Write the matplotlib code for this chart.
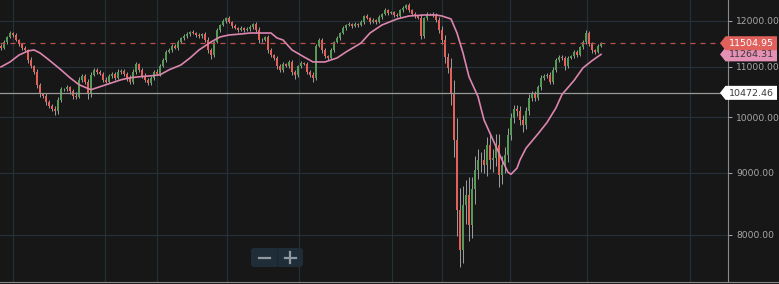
import matplotlib.pyplot as plt
import numpy as np
from matplotlib.patches import Polygon, FancyBboxPatch
from matplotlib.ticker import NullLocator, NullFormatter

# daily closes left to right
closes = [
    11400, 11530, 11640, 11730, 11690, 11580, 11490, 11400, 11360, 11150,
    11020, 10900, 10630, 10440, 10420, 10300, 10220, 10150, 10110, 10340,
    10540, 10540, 10580, 10500, 10420, 10400, 10740, 10820, 10700, 10440,
    10840, 10940, 10900, 10860,
    10740, 10700, 10820, 10860, 10780, 10900, 10920, 10860, 10780, 10680,
    10900, 11060, 10940, 10820, 10740, 10660, 10780, 10900, 10860, 11020,
    11150, 11320, 11360, 11450, 11400, 11530, 11620, 11660, 11710, 11750,
    11730, 11690, 11660,
    11710, 11580, 11360, 11250, 11530, 11800, 11910, 12000, 12070, 11980,
    11890, 11840, 11800, 11840, 11800, 11820, 11860, 11930, 11800, 11580,
    11580, 11640, 11360, 11250, 11190, 11020, 10940, 11060, 11020, 11100,
    10900, 10840, 11020,
    11080, 11060, 10900, 10840, 10780, 11450, 11580, 11360, 11230, 11190,
    11360, 11530, 11620, 11730, 11840, 11910, 11930, 11890, 11930, 11910,
    11980, 12110, 12070, 11980, 12020, 11980, 12090, 12160, 12250, 12180,
    12200, 12140, 12110,
    12250, 12300, 12370, 12250, 12160, 12110, 12070, 11660, 12070, 12160,
    12160, 12140, 12020, 11800, 11580, 11210, 10980, 10440, 9580, 8390,
    7780, 8470, 8630, 8160, 8730, 9040, 9220, 9220, 9140, 9490,
    9220, 9260, 9490,
    8960, 9140, 9310, 9670, 9980, 10150, 10110, 9950, 9850, 10110,
    10380, 10440, 10380, 10580, 10780, 10820, 10840, 10700, 10940, 11150,
    11210, 11190, 11020, 11190, 11230, 11320, 11250, 11420, 11530, 11730,
    11490, 11360, 11320, 11450, 11504.95,
]
first_open = 11450

wick_up = [
    30, 40, 20, 50, 30, 40, 20, 30, 40, 30, 50, 30, 60, 40, 30, 50, 40, 30, 60, 50,
    40, 30, 50, 30, 40, 60, 50, 40, 30, 60, 50, 40, 30, 40,
    40, 50, 30, 40, 30, 50, 40, 30, 40, 60, 50, 40, 30, 40, 50, 30, 40, 30, 50, 40,
    40, 30, 50, 40, 30, 40, 30, 40, 50, 30, 40, 30, 40,
    30, 40, 60, 50, 30, 40, 30, 40, 30, 40, 30, 40, 30, 40, 30, 40, 50, 30, 40, 60,
    40, 30, 50, 40, 30, 40, 50, 40, 30, 40, 50, 40, 30,
    40, 30, 50, 40, 60, 30, 40, 50, 40, 30, 40, 30, 40, 30, 40, 30, 40, 30, 40, 30,
    40, 30, 40, 30, 40, 30, 40, 30, 40, 30, 40, 30, 40,
    30, 40, 30, 40, 30, 40, 30, 80, 30, 40, 30, 40, 50, 60, 80, 100, 80, 200, 300, 400,
    350, 300, 250, 300, 200, 250, 200, 150, 200, 150, 200, 150, 200,
    200, 150, 150, 120, 100, 80, 80, 100, 100, 80, 60, 60, 60, 50, 50, 40, 40, 60, 50, 40,
    40, 40, 50, 40, 30, 40, 40, 30, 40, 60, 40, 40, 30, 40, 30,
]
wick_dn = [
    40, 30, 40, 30, 40, 30, 50, 40, 30, 60, 50, 40, 60, 50, 40, 60, 50, 40, 60, 50,
    40, 30, 40, 50, 60, 40, 30, 40, 60, 80, 40, 30, 40, 30,
    50, 40, 30, 40, 50, 30, 40, 50, 60, 40, 30, 40, 50, 40, 60, 40, 30, 40, 30, 40,
    30, 40, 30, 40, 30, 40, 30, 40, 30, 40, 30, 40, 30,
    40, 50, 60, 80, 40, 30, 40, 30, 40, 30, 40, 30, 40, 30, 40, 30, 40, 30, 50, 60,
    40, 30, 60, 50, 40, 60, 50, 40, 30, 40, 60, 80, 40,
    40, 30, 50, 40, 80, 40, 30, 60, 50, 40, 30, 40, 30, 40, 30, 40, 30, 40, 30, 40,
    30, 40, 30, 40, 30, 40, 30, 40, 30, 40, 30, 40, 30,
    30, 40, 30, 40, 30, 40, 30, 60, 30, 40, 30, 40, 50, 80, 100, 120, 100, 200, 300, 400,
    250, 200, 300, 250, 200, 250, 150, 200, 150, 200, 150, 200, 150,
    200, 150, 150, 120, 100, 80, 80, 100, 120, 80, 60, 60, 60, 50, 50, 40, 40, 60, 50, 40,
    40, 40, 80, 40, 30, 40, 40, 30, 40, 40, 40, 60, 40, 30, 30,
]

# moving average, sampled at candle positions
ma_idx = [0, 3, 6, 9, 11, 13, 16, 20, 23, 26, 30, 33, 36, 40, 43, 46, 50, 53, 56, 60,
          63, 66, 70, 73, 76, 80, 83, 86, 90, 92, 94, 97, 101, 104, 108, 112, 115, 120,
          123, 127, 132, 136, 141, 145, 147, 150, 152, 154, 156, 159, 161, 164, 167,
          169, 170, 172, 173, 175, 179, 182, 185, 187, 191, 194, 197, 200]
ma_vals = [11000, 11104, 11250, 11337, 11359, 11295, 11146, 10939, 10776, 10635,
           10535, 10595, 10655, 10735, 10776, 10796, 10816, 10836, 10939, 11042,
           11188, 11359, 11532, 11642, 11686, 11708, 11730, 11730, 11730, 11620,
           11576, 11359, 11210, 11104, 11104, 11188, 11316, 11510, 11730, 11910,
           12046, 12114, 12137, 12137, 12114, 12046, 11730, 11295, 10796, 10398,
           9949, 9579, 9223, 9010, 8975, 9080, 9223, 9430, 9690, 9900,
           10180, 10440, 10720, 10980, 11130, 11264.31]

last_price = 11504.95
ma_last = 11264.31
ref_price = 10472.46
y_ticks = [8000, 9000, 10000, 11000, 12000]
grid_x = [4, 34.67, 52, 75.33, 99.33, 130.33, 147, 169.67, 195.33, 229.67]

bg = '#171717'
grid_c = '#26313b'
red = '#e3605b'
green = '#559a55'
wick_c = '#b4b4b4'
pink = '#dc86ae'

closes = np.array(closes, dtype=float)
opens = np.r_[first_open, closes[:-1]]
highs = np.maximum(opens, closes) + np.array(wick_up)
lows = np.minimum(opens, closes) - np.array(wick_dn)
idx = np.arange(len(closes))
up = closes >= opens

W, H = 779, 284
fig = plt.figure(figsize=(W / 100, H / 100), dpi=100)
fig.patch.set_facecolor(bg)
ax = fig.add_axes([0, 2 / H, 728 / W, 282 / H])
ax.set_facecolor(bg)
ax.set_yscale('log')
ax.set_ylim(7318, 12487)
ax.set_xlim(-1 / 3, 728 / 3 - 1 / 3)

for v in y_ticks:
    ax.axhline(v, color=grid_c, lw=0.8, zorder=0)
for gx in grid_x:
    ax.axvline(gx, color=grid_c, lw=0.8, zorder=0)

ax.vlines(idx, lows, highs, color=wick_c, lw=0.6, zorder=1)
ax.bar(idx[up], (closes - opens)[up], bottom=opens[up], width=0.8, color=green,
       lw=0, antialiased=False, zorder=2)
ax.bar(idx[~up], (closes - opens)[~up], bottom=opens[~up], width=0.8, color=red,
       lw=0, antialiased=False, zorder=2)

ax.axhline(ref_price, color='#9a9a9a', lw=0.9, zorder=3)
ax.axhline(last_price, color='#b9504d', lw=0.9, dashes=(4, 4), zorder=3)
ax.plot(ma_idx, ma_vals, color=pink, lw=1.2, zorder=4)

ax.yaxis.tick_right()
ax.set_yticks(y_ticks)
ax.set_yticklabels([f'{v:.2f}' for v in y_ticks])
ax.yaxis.set_minor_locator(NullLocator())
ax.yaxis.set_minor_formatter(NullFormatter())
ax.set_xticks([])
ax.tick_params(axis='y', colors='#a8a8a8', labelsize=6.6, length=3, width=0.7, pad=3)
for s in ['left', 'top', 'bottom']:
    ax.spines[s].set_visible(False)
ax.spines['right'].set_color('#8a8a8a')
ax.spines['right'].set_linewidth(0.8)

# overlay in pixel coordinates for price tags and zoom buttons
ov = fig.add_axes([0, 0, 1, 1])
ov.set_xlim(0, W)
ov.set_ylim(H, 0)
ov.axis('off')
ov.patch.set_alpha(0)
ov.plot([0, W], [282, 282], color='#8a8a8a', lw=0.8)

fig.canvas.draw()


def ypix(price):
    return H - ax.transData.transform((0, price))[1]


def tag(price, face, txt_color):
    yc = ypix(price)
    pts = [(720, yc), (725.5, yc - 7), (777, yc - 7), (777, yc + 7), (725.5, yc + 7)]
    ov.add_patch(Polygon(pts, closed=True, fc=face, ec='none', zorder=5))
    ov.text(751, yc + 0.5, f'{price:.2f}', color=txt_color, fontsize=6.8,
            ha='center', va='center', zorder=6)


tag(ref_price, '#ffffff', '#3a3a3a')
tag(ma_last, '#e590b5', '#3a3a3a')
tag(last_price, '#e0605c', '#ffffff')

ov.add_patch(FancyBboxPatch((251, 248), 52, 19, boxstyle='round,pad=0,rounding_size=3',
                            fc='#1f2d38', ec='none', zorder=5))
ov.plot([277, 277], [249, 266], color='#1a2630', lw=0.8, zorder=6)
ov.plot([259, 270], [257.5, 257.5], color='#8d989f', lw=1.6, zorder=6)
ov.plot([285, 296], [257.5, 257.5], color='#8d989f', lw=1.6, zorder=6)
ov.plot([290.5, 290.5], [252, 263], color='#8d989f', lw=1.6, zorder=6)

fig.savefig('out.png', dpi=100, facecolor=bg)
